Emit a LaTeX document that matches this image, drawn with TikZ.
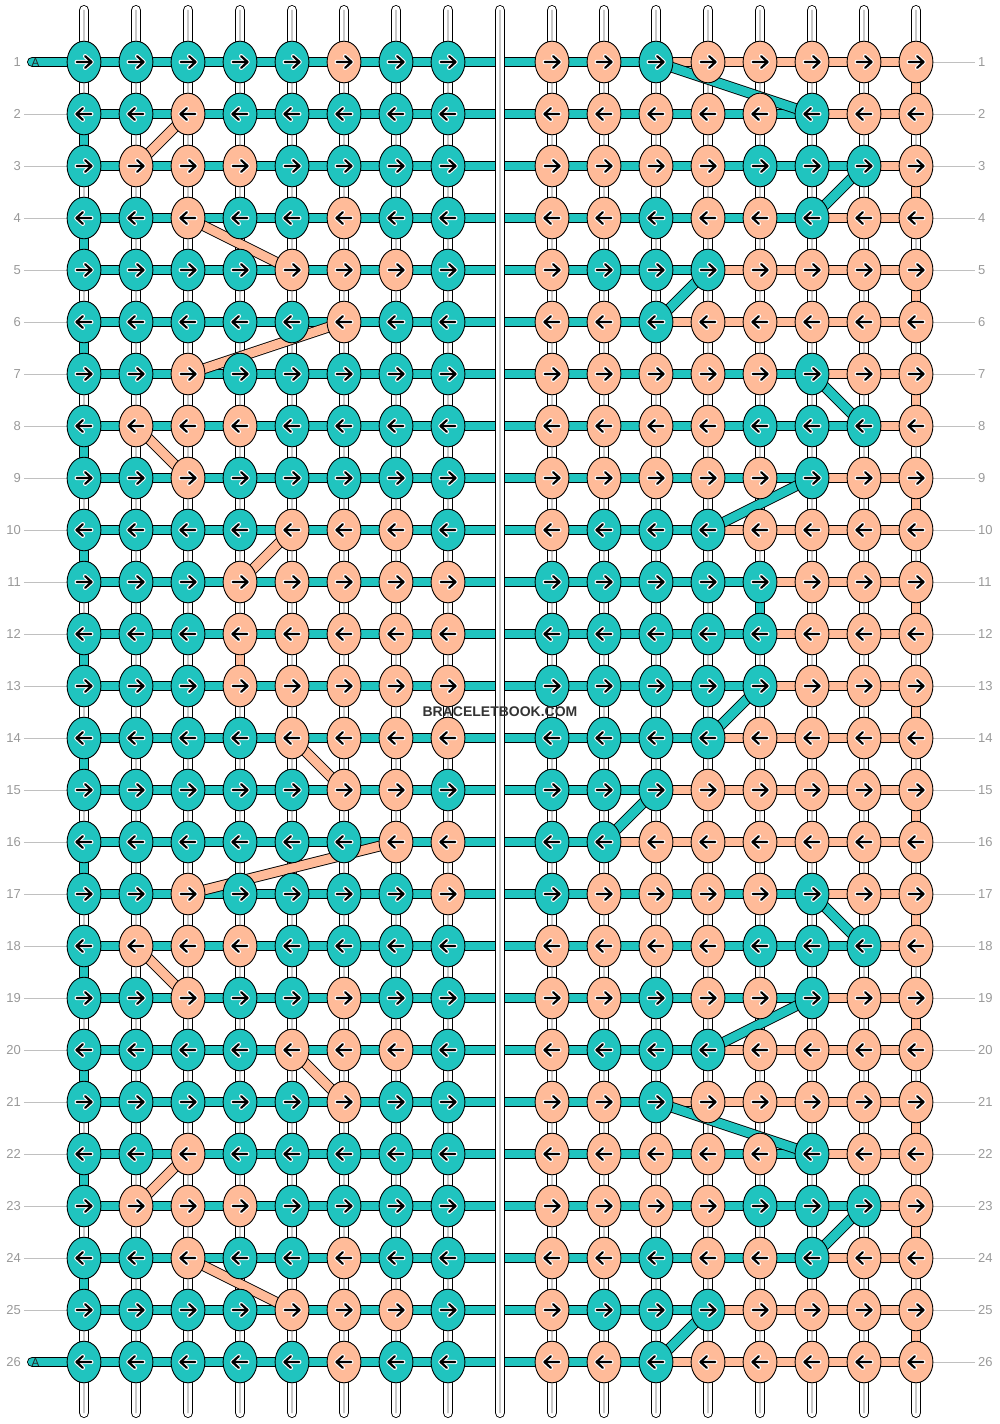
\documentclass[tikz,border=0pt]{standalone}
\usepackage{fontspec}
\setmainfont{Liberation Sans}
\usetikzlibrary{shapes.geometric}
\definecolor{tealc}{HTML}{20C4BF}
\definecolor{peachc}{HTML}{FFBB99}
\definecolor{labgrey}{HTML}{999999}
\definecolor{linegrey}{HTML}{C0C0C0}
\definecolor{strgrey}{HTML}{C8C8C8}
\definecolor{wmark}{HTML}{333333}
\pgfdeclarelayer{vstr}\pgfdeclarelayer{bands}\pgfdeclarelayer{diags}\pgfdeclarelayer{mid}\pgfdeclarelayer{front}
\pgfsetlayers{vstr,bands,diags,mid,main,front}
\newcommand\arrowright{%
  \begin{scope}[shift={(path picture bounding box.center)}]
    \draw[white, line width=4.4, line cap=round, line join=round] (-7.3,0) -- (7.2,0) (1.2,-5.8) -- (7.6,0) -- (1.2,5.8);
    \draw[black, line width=2.2, line cap=round, line join=round] (-7.3,0) -- (7.2,0) (1.2,-5.8) -- (7.6,0) -- (1.2,5.8);
  \end{scope}}
\newcommand\arrowleft{%
  \begin{scope}[shift={(path picture bounding box.center)}]
    \draw[white, line width=4.4, line cap=round, line join=round] (7.3,0) -- (-7.2,0) (-1.2,-5.8) -- (-7.6,0) -- (-1.2,5.8);
    \draw[black, line width=2.2, line cap=round, line join=round] (7.3,0) -- (-7.2,0) (-1.2,-5.8) -- (-7.6,0) -- (-1.2,5.8);
  \end{scope}}
\tikzset{
  knot/.style={ellipse, draw=black, line width=0.9, inner sep=0, minimum width=33.8, minimum height=41.6},
  rarr/.style={path picture={\arrowright}},
  larr/.style={path picture={\arrowleft}},
  band/.style={draw=black, line width=0.9, double=#1, double distance=8.9},
  vstring/.style={draw=black, line width=0.9, double=white, double distance=8.9, line cap=round},
  vcore/.style={draw=strgrey, line width=1.6, line cap=round},
  lab/.style={font=\fontsize{13}{13}\selectfont, text=labgrey, inner xsep=3, inner ysep=0},
  gline/.style={draw=linegrey, line width=1},
}
\begin{document}
\begin{tikzpicture}[x=1pt,y=-1pt]
\useasboundingbox (0,0) rectangle (1000,1424);
% vertical strings
\begin{pgfonlayer}{vstr}
\foreach \c in {1,...,16} {
  \pgfmathsetmacro\x{84+52*(\c-1)+52*(\c>8)}
  \coordinate (vt\c) at (\x,10.35);
  \coordinate (vb\c) at (\x,1412.65);
  \draw[vstring] (vt\c) -- (vb\c);
  \draw[vcore] (vt\c) -- (vb\c);
}
\end{pgfonlayer}
\begin{pgfonlayer}{mid}
  \coordinate (vtm) at (500,10.35);
  \coordinate (vbm) at (500,1412.65);
  \draw[vstring] (vtm) -- (vbm);
  \draw[vcore] (vtm) -- (vbm);
\end{pgfonlayer}
% knots and horizontal bands
\foreach \r/\cols/\cc in {
1/{0,0,0,0,0,1,0,0,1,1,0,1,1,1,1,1}/11,
2/{0,0,1,0,0,0,0,0,1,1,1,1,1,0,1,1}/14,
3/{0,1,1,1,0,0,0,0,1,1,1,1,0,0,0,1}/15,
4/{0,0,1,0,0,1,0,0,1,1,0,1,1,0,1,1}/14,
5/{0,0,0,0,1,1,1,0,1,0,0,0,1,1,1,1}/12,
6/{0,0,0,0,0,1,0,0,1,1,0,1,1,1,1,1}/11,
7/{0,0,1,0,0,0,0,0,1,1,1,1,1,0,1,1}/14,
8/{0,1,1,1,0,0,0,0,1,1,1,1,0,0,0,1}/15,
9/{0,0,1,0,0,0,0,0,1,1,1,1,1,0,1,1}/14,
10/{0,0,0,0,1,1,1,0,1,0,0,0,1,1,1,1}/12,
11/{0,0,0,1,1,1,1,1,0,0,0,0,0,1,1,1}/13,
12/{0,0,0,1,1,1,1,1,0,0,0,0,0,1,1,1}/13,
13/{0,0,0,1,1,1,1,1,0,0,0,0,0,1,1,1}/13,
14/{0,0,0,0,1,1,1,1,0,0,0,0,1,1,1,1}/12,
15/{0,0,0,0,0,1,1,0,0,0,0,1,1,1,1,1}/11,
16/{0,0,0,0,0,0,1,1,0,0,1,1,1,1,1,1}/10,
17/{0,0,1,0,0,0,0,1,0,1,1,1,1,0,1,1}/14,
18/{0,1,1,1,0,0,0,0,1,1,1,1,0,0,0,1}/15,
19/{0,0,1,0,0,1,0,0,1,1,0,1,1,0,1,1}/14,
20/{0,0,0,0,1,1,1,0,1,0,0,0,1,1,1,1}/12,
21/{0,0,0,0,0,1,0,0,1,1,0,1,1,1,1,1}/11,
22/{0,0,1,0,0,0,0,0,1,1,1,1,1,0,1,1}/14,
23/{0,1,1,1,0,0,0,0,1,1,1,1,0,0,0,1}/15,
24/{0,0,1,0,0,1,0,0,1,1,0,1,1,0,1,1}/14,
25/{0,0,0,0,1,1,1,0,1,0,0,0,1,1,1,1}/12,
26/{0,0,0,0,0,1,0,0,1,1,0,1,1,1,1,1}/11} {
  \pgfmathsetmacro\y{62+52*(\r-1)}
  \foreach \k [count=\c] in \cols {
    \pgfmathsetmacro\x{84+52*(\c-1)+52*(\c>8)}
    \ifnum\k=1\def\kc{peachc}\else\def\kc{tealc}\fi
    \ifodd\r
      \node[knot, fill=\kc, rarr] (k\r-\c) at (\x,\y) {};
    \else
      \node[knot, fill=\kc, larr] (k\r-\c) at (\x,\y) {};
    \fi
  }
  \begin{pgfonlayer}{bands}
  \foreach \j in {1,...,15} {
    \pgfmathtruncatemacro\jn{\j+1}
    \ifnum\jn>\cc\def\sc{peachc}\else\def\sc{tealc}\fi
    \draw[band=\sc] (k\r-\j.center) -- (k\r-\jn.center);
  }
  \end{pgfonlayer}
  \node[lab, anchor=east] (ll\r) at (24,\y) {\r};
  \node[lab, anchor=west] (rl\r) at (975,\y) {\r};
  \begin{pgfonlayer}{vstr}
    \draw[gline] (k\r-16.center) -- (rl\r.west);
  \end{pgfonlayer}
}
% left grey lines (rows 2..25)
\begin{pgfonlayer}{vstr}
\foreach \r in {2,...,25} { \draw[gline] (ll\r.east) -- (k\r-1.center); }
\end{pgfonlayer}
% turnarounds and start/end stubs
\begin{pgfonlayer}{bands}
\foreach \r in {2,4,...,24} { \pgfmathtruncatemacro\rn{\r+1} \draw[band=tealc] (k\r-1.center) -- (k\rn-1.center); }
\foreach \r in {1,3,...,25} { \pgfmathtruncatemacro\rn{\r+1} \draw[band=peachc] (k\r-16.center) -- (k\rn-16.center); }
\draw[band=tealc] (k11-13.center) -- (k12-13.center);
\draw[band=peachc] (k12-4.center) -- (k13-4.center);
\coordinate (sA1) at (32.35,62);
\coordinate (sA26) at (32.35,1362);
\draw[band=tealc, line cap=round] (sA1) -- (k1-1.center);
\draw[band=tealc, line cap=round] (sA26) -- (k26-1.center);
\end{pgfonlayer}
\node[font=\fontsize{11.5}{11.5}\selectfont, text=black!85, inner sep=0] (A1) at (35.5,62.5) {A};
\node[font=\fontsize{11.5}{11.5}\selectfont, text=black!85, inner sep=0] (A26) at (35.5,1362.5) {A};
% diagonal string changes
\begin{pgfonlayer}{diags}
\foreach \a/\b in {1-11/2-14, 3-15/4-14, 5-12/6-11, 7-14/8-15, 9-14/10-12, 13-13/14-12,
                   15-11/16-10, 17-14/18-15, 19-14/20-12, 21-11/22-14, 23-15/24-14, 25-12/26-11}
  { \draw[band=tealc] (k\a.center) -- (k\b.center); }
\foreach \a/\b in {2-3/3-2, 4-3/5-5, 6-6/7-3, 8-2/9-3, 10-5/11-4, 14-5/15-6,
                   16-7/17-3, 18-2/19-3, 20-5/21-6, 22-3/23-2, 24-3/25-5}
  { \draw[band=peachc] (k\a.center) -- (k\b.center); }
\end{pgfonlayer}
\begin{pgfonlayer}{front}
\node[font=\bfseries\fontsize{14}{14}\selectfont, text=wmark] (wm) at (500,712) {BRACELETBOOK.COM};
\end{pgfonlayer}
\end{tikzpicture}
\end{document}
